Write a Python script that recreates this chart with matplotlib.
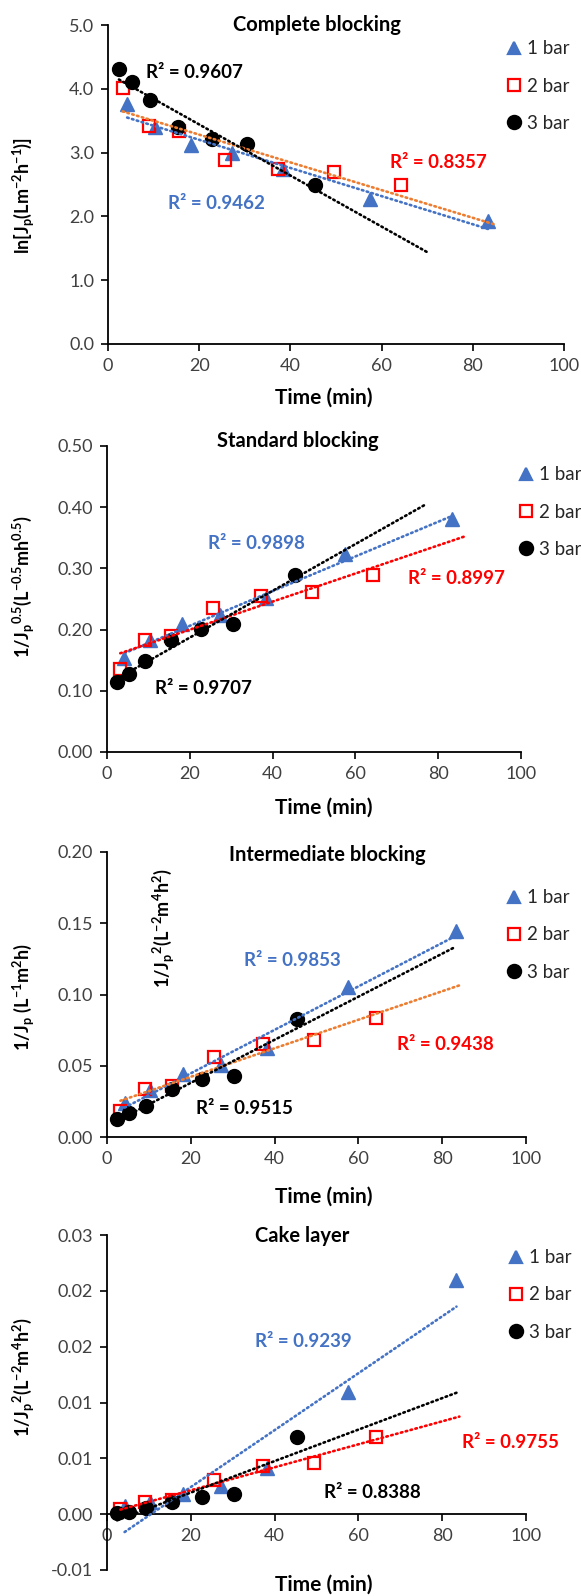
import numpy as np
import matplotlib
matplotlib.use('Agg')
import matplotlib.pyplot as plt
from matplotlib.lines import Line2D
from matplotlib.ticker import MultipleLocator, FuncFormatter
from decimal import Decimal, ROUND_HALF_UP

plt.rcParams['font.family'] = ['Lato', 'DejaVu Sans']
plt.rcParams['mathtext.fontset'] = 'custom'
plt.rcParams['mathtext.rm'] = 'Lato'
plt.rcParams['mathtext.bf'] = 'Lato:bold'

# ---------------- data ----------------
series_labels = ['1 bar', '2 bar', '3 bar']
time_1bar = [4.2, 10.3, 18.2, 27.2, 38.3, 57.4, 83.4]
time_2bar = [3.2, 9.1, 15.5, 25.6, 37.2, 49.5, 64.3]
time_3bar = [2.4, 5.3, 9.2, 15.4, 22.7, 30.4, 45.3]

complete_1bar = [3.76, 3.40, 3.12, 2.99, 2.75, 2.27, 1.93]
complete_2bar = [4.01, 3.41, 3.34, 2.88, 2.75, 2.69, 2.49]
complete_3bar = [4.31, 4.10, 3.82, 3.40, 3.21, 3.13, 2.49]
complete_r2 = ['0.9462', '0.8357', '0.9607']
complete_trend_end = [83.4, 85.0, 70.0]

standard_1bar = [0.153, 0.183, 0.209, 0.224, 0.251, 0.324, 0.380]
standard_2bar = [0.135, 0.183, 0.189, 0.235, 0.255, 0.261, 0.289]
standard_3bar = [0.115, 0.128, 0.148, 0.183, 0.201, 0.209, 0.289]
standard_r2 = ['0.9898', '0.8997', '0.9707']
standard_trend_end = [83.4, 86.5, 77.0]

intermediate_1bar = [0.0239, 0.0330, 0.0444, 0.0508, 0.0625, 0.1050, 0.1443]
intermediate_2bar = [0.0180, 0.0337, 0.0360, 0.0560, 0.0650, 0.0680, 0.0835]
intermediate_3bar = [0.0129, 0.0168, 0.0220, 0.0337, 0.0407, 0.0430, 0.0830]
intermediate_r2 = ['0.9853', '0.9438', '0.9515']
intermediate_trend_end = [83.4, 84.3, 83.1]

cake_1bar = [0.00069, 0.00113, 0.00185, 0.00248, 0.00412, 0.01098, 0.02097]
cake_2bar = [0.00050, 0.00106, 0.00123, 0.00303, 0.00427, 0.00462, 0.00689]
cake_3bar = [0.00012, 0.00020, 0.00051, 0.00110, 0.00155, 0.00185, 0.00689]
cake_r2 = ['0.9239', '0.9755', '0.8388']
cake_trend_end = [83.4, 84.1, 83.4]

titles = ['Complete blocking', 'Standard blocking', 'Intermediate blocking', 'Cake layer']
ylabels = [r'ln[J$_\mathregular{p}$(Lm$^\mathregular{-2}$h$^\mathregular{-1}$)]',
           r'1/J$_\mathregular{p}$$^\mathregular{0.5}$(L$^\mathregular{-0.5}$mh$^\mathregular{0.5}$)',
           r'1/J$_\mathregular{p}$ (L$^\mathregular{-1}$m$^\mathregular{2}$h)',
           r'1/J$_\mathregular{p}$$^\mathregular{2}$(L$^\mathregular{-2}$m$^\mathregular{4}$h$^\mathregular{2}$)']
stray_label = r'1/J$_\mathregular{p}$$^\mathregular{2}$(L$^\mathregular{-2}$m$^\mathregular{4}$h$^\mathregular{2}$)'
xlabel = 'Time (min)'

# ---------------- layout / style ----------------
W, H = 581, 1596
fig = plt.figure(figsize=(W / 100, H / 100), dpi=100)

def fx(px):
    return px / W

def fy(py):
    return 1 - py / H

marker_colors = ['#4472C4', '#FF0000', '#000000']
text_colors = ['#4472C4', '#FF0000', '#000000']
markers = ['^', 's', 'o']
msizes = [9.5, 8.5, 10]

def half_up(v, pos):
    d = Decimal(str(round(v, 6))).quantize(Decimal('0.01'), rounding=ROUND_HALF_UP)
    s = str(d)
    return '0.00' if s == '-0.00' else s

panels = [
    dict(vals=[complete_1bar, complete_2bar, complete_3bar], r2=complete_r2,
         tend=complete_trend_end, box=(108, 564, 25, 344), ylim=(0, 5), ystep=1.0,
         fmt=lambda v, p: f'{v:.1f}', tcol=['#4472C4', '#ED7D31', '#000000'],
         r2pos=[(23.7, 2.21), (72.4, 2.85), (18.9, 4.26)],
         title_xy=(317, 25), ylab_y=196, leg=(514, 86), xlab_y=398),
    dict(vals=[standard_1bar, standard_2bar, standard_3bar], r2=standard_r2,
         tend=standard_trend_end, box=(107, 521, 446, 752), ylim=(0, 0.5), ystep=0.1,
         fmt=lambda v, p: f'{v:.2f}', tcol=['#4472C4', '#FF0000', '#000000'],
         r2pos=[(36.2, 0.340), (84.5, 0.284), (23.2, 0.103)],
         title_xy=(298, 441), ylab_y=587, leg=(526, 512), xlab_y=808),
    dict(vals=[intermediate_1bar, intermediate_2bar, intermediate_3bar], r2=intermediate_r2,
         tend=intermediate_trend_end, box=(107, 526, 852, 1137), ylim=(0, 0.2), ystep=0.05,
         fmt=lambda v, p: f'{v:.2f}', tcol=['#4472C4', '#ED7D31', '#000000'],
         r2pos=[(44.2, 0.124), (80.7, 0.065), (32.7, 0.020)],
         title_xy=(327, 855), ylab_y=997, leg=(514, 935), xlab_y=1197),
    dict(vals=[cake_1bar, cake_2bar, cake_3bar], r2=cake_r2,
         tend=cake_trend_end, box=(107, 526, 1235, 1570), ylim=(-0.005, 0.025), ystep=0.005,
         fmt=half_up, tcol=['#4472C4', '#FF0000', '#000000'],
         r2pos=[(46.8, 0.0155), (96.2, 0.00645), (63.4, 0.00197)],
         title_xy=(302, 1236), ylab_y=1377, leg=(516, 1295), xlab_y=1585),
]
times = [time_1bar, time_2bar, time_3bar]

for i, p in enumerate(panels):
    l, r, t, b = p['box']
    ax = fig.add_axes([fx(l), fy(b), (r - l) / W, (b - t) / H])
    ax.set_xlim(0, 100)
    ax.set_ylim(*p['ylim'])
    ax.xaxis.set_major_locator(MultipleLocator(20))
    ax.yaxis.set_major_locator(MultipleLocator(p['ystep']))
    ax.yaxis.set_major_formatter(FuncFormatter(p['fmt']))
    for s in ['top', 'right']:
        ax.spines[s].set_visible(False)
    for s in ['left', 'bottom']:
        ax.spines[s].set_linewidth(1.3)
        ax.spines[s].set_color('#000000')
    if p['ylim'][0] < 0:
        ax.spines['bottom'].set_position(('data', 0))
    ax.tick_params(direction='out', length=5, width=1.2, labelsize=13, pad=5,
                   colors='#000000', labelcolor='#404040')

    for k in range(3):
        x = np.array(times[k])
        y = np.array(p['vals'][k])
        if k == 1:
            ax.plot(x, y, linestyle='none', marker=markers[k], ms=msizes[k],
                    mfc='none', mec=marker_colors[k], mew=1.6, zorder=3, clip_on=False)
        else:
            ax.plot(x, y, linestyle='none', marker=markers[k], ms=msizes[k],
                    mfc=marker_colors[k], mec=marker_colors[k], zorder=3, clip_on=False)
    for k in range(3):
        x = np.array(times[k])
        y = np.array(p['vals'][k])
        m, c = np.polyfit(x, y, 1)
        xl = np.linspace(x[0], p['tend'][k], 50)
        ax.plot(xl, m * xl + c, color=p['tcol'][k], lw=1.9,
                linestyle=(0, (0.6, 1.3)), dash_capstyle='round', zorder=4)
    for k in range(3):
        ax.text(p['r2pos'][k][0], p['r2pos'][k][1], 'R² = ' + p['r2'][k],
                color=text_colors[k], fontsize=13.5, fontweight='bold',
                ha='center', va='center', clip_on=False, zorder=5)

    fig.text(fx(p['title_xy'][0]), fy(p['title_xy'][1]), titles[i], fontsize=14.5,
             fontweight='bold', ha='center', va='center')
    fig.text(fx(24), fy(p['ylab_y']), ylabels[i], fontsize=13, fontweight='bold',
             rotation=90, ha='center', va='center')
    fig.text(fx(324), fy(p['xlab_y']), xlabel, fontsize=15, fontweight='bold',
             ha='center', va='center')

    leg_handles = [Line2D([], [], linestyle='none', marker=markers[k], ms=msizes[k] * 0.95,
                          mfc=('none' if k == 1 else marker_colors[k]),
                          mec=marker_colors[k], mew=1.6) for k in range(3)]
    ax.legend(leg_handles, series_labels, loc='center left',
              bbox_to_anchor=(fx(p['leg'][0] - 9.4), fy(p['leg'][1])),
              bbox_transform=fig.transFigure, frameon=False, fontsize=13.5,
              handlelength=1.0, handletextpad=0.2, borderpad=0, borderaxespad=0,
              labelspacing=1.08, labelcolor='#262626')

    if i == 2:
        fig.text(fx(164), fy(928), stray_label, fontsize=13, fontweight='bold',
                 rotation=90, ha='center', va='center')

fig.savefig('out.png', dpi=100)
